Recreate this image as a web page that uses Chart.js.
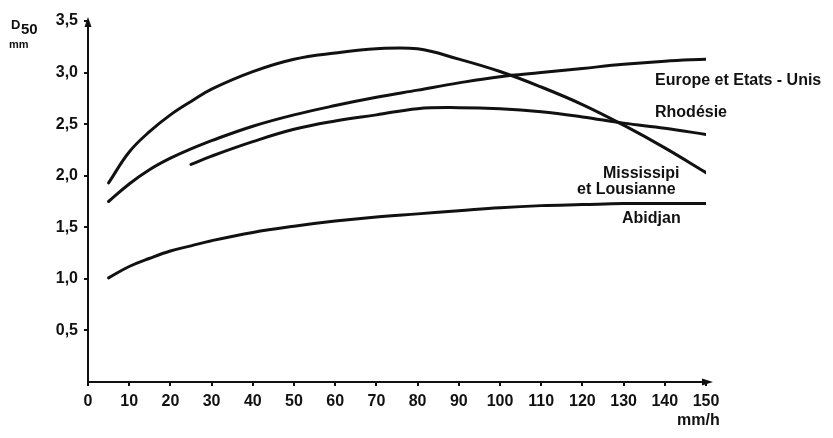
<!DOCTYPE html>
<html>
<head>
<meta charset="utf-8">
<script src="https://cdn.jsdelivr.net/npm/chart.js@4/dist/chart.umd.min.js"></script>
<style>
  html, body { margin: 0; padding: 0; background: #ffffff; }
  #c { display: block; }
</style>
</head>
<body>
<canvas id="c" width="833" height="438"></canvas>
<script>
// ---- Data ----
const intensity = [5, 10, 15, 20, 25, 30, 40, 50, 60, 70, 80, 90, 100, 110, 120, 130, 140, 150];
const mississipi = [1.93, 2.23, 2.43, 2.59, 2.72, 2.84, 3.01, 3.13, 3.19, 3.23, 3.23, 3.13, 3.01, 2.86, 2.69, 2.49, 2.27, 2.03];
const europe     = [1.75, 1.92, 2.06, 2.17, 2.26, 2.34, 2.48, 2.59, 2.68, 2.76, 2.83, 2.90, 2.96, 3.00, 3.04, 3.08, 3.11, 3.13];
const abidjan    = [1.01, 1.12, 1.20, 1.27, 1.32, 1.37, 1.45, 1.51, 1.56, 1.60, 1.63, 1.66, 1.69, 1.71, 1.72, 1.73, 1.73, 1.73];
const rhodesieX  = [25, 30, 40, 50, 60, 70, 80, 90, 100, 110, 120, 130, 140, 150];
const rhodesie   = [2.11, 2.19, 2.33, 2.45, 2.53, 2.59, 2.65, 2.66, 2.65, 2.62, 2.57, 2.51, 2.46, 2.40];
const xTicks = [0, 10, 20, 30, 40, 50, 60, 70, 80, 90, 100, 110, 120, 130, 140, 150];
const yTicks = [0.5, 1.0, 1.5, 2.0, 2.5, 3.0, 3.5];
const seriesLabels = ['Mississipi et Lousianne', 'Europe et Etats-Unis', 'Rhodésie', 'Abidjan'];

const pts = (xs, ys) => xs.map((x, i) => ({ x: x, y: ys[i] }));

const FONT = '"Liberation Sans", Arial, sans-serif';
const INK = '#111111';

const lineStyle = {
  borderColor: INK,
  borderWidth: 3,
  pointRadius: 0,
  fill: false,
  tension: 0.4,
  borderCapStyle: 'round',
  borderJoinStyle: 'round'
};

const annotations = {
  id: 'annotations',
  afterDraw(chart) {
    const ctx = chart.ctx;
    const xs = chart.scales.x, ys = chart.scales.y;
    const x0 = xs.getPixelForValue(0), y0 = ys.getPixelForValue(0);
    const yTop = ys.getPixelForValue(3.5);
    const xEnd = xs.getPixelForValue(150);
    ctx.save();
    ctx.strokeStyle = INK; ctx.fillStyle = INK; ctx.lineWidth = 2;
    // y axis arrow
    ctx.beginPath(); ctx.moveTo(x0, yTop - 4); ctx.lineTo(x0 - 3.5, yTop + 6); ctx.lineTo(x0 + 3.5, yTop + 6); ctx.closePath(); ctx.fill();
    // x axis extension + arrow
    ctx.beginPath(); ctx.moveTo(xEnd, y0); ctx.lineTo(xEnd + 2, y0); ctx.stroke();
    ctx.beginPath(); ctx.moveTo(xEnd + 7, y0); ctx.lineTo(xEnd - 4, y0 - 3.5); ctx.lineTo(xEnd - 4, y0 + 3.5); ctx.closePath(); ctx.fill();

    ctx.textBaseline = 'middle';
    ctx.textAlign = 'left';
    ctx.font = 'bold 16px ' + FONT;
    ctx.fillText('Europe et Etats - Unis', 655, 81);
    ctx.fillText('Rhodésie', 655, 113);
    ctx.fillText('Mississipi', 603, 174);
    ctx.fillText('et Lousianne', 577, 190);
    ctx.fillText('Abidjan', 622, 219);
    ctx.fillText('mm/h', 677, 421);
    // y axis title
    ctx.font = 'bold 13px ' + FONT;
    ctx.fillText('D', 11, 25);
    ctx.font = 'bold 15px ' + FONT;
    ctx.fillText('50', 21, 30);
    ctx.font = 'bold 11px ' + FONT;
    ctx.fillText('mm', 9, 45);
    ctx.restore();
  }
};

new Chart(document.getElementById('c'), {
  type: 'line',
  data: {
    datasets: [
      Object.assign({ label: seriesLabels[0], data: pts(intensity, mississipi) }, lineStyle),
      Object.assign({ label: seriesLabels[1], data: pts(intensity, europe) }, lineStyle),
      Object.assign({ label: seriesLabels[2], data: pts(rhodesieX, rhodesie) }, lineStyle),
      Object.assign({ label: seriesLabels[3], data: pts(intensity, abidjan) }, lineStyle)
    ]
  },
  options: {
    responsive: false,
    animation: false,
    layout: { padding: { top: 21, right: 127, left: 0, bottom: 0 } },
    plugins: { legend: { display: false }, tooltip: { enabled: false } },
    scales: {
      x: {
        type: 'linear', min: 0, max: 150,
        afterFit(s) { s.height = 56; },
        afterBuildTicks(s) { s.ticks = xTicks.map(v => ({ value: v })); },
        grid: { display: true, drawOnChartArea: false, drawTicks: true, tickLength: 4, color: INK, lineWidth: 2 },
        border: { display: true, color: INK, width: 2 },
        ticks: { color: INK, padding: 6, maxRotation: 0, autoSkip: false,
                 font: { family: FONT, size: 16, weight: 'bold' },
                 callback: v => String(v) }
      },
      y: {
        type: 'linear', min: 0, max: 3.5,
        afterFit(s) { s.width = 88; },
        afterBuildTicks(s) { s.ticks = yTicks.map(v => ({ value: v })); },
        grid: { display: true, drawOnChartArea: false, drawTicks: true, tickLength: 4, color: INK, lineWidth: 2 },
        border: { display: true, color: INK, width: 2 },
        ticks: { color: INK, padding: 6, autoSkip: false,
                 font: { family: FONT, size: 16, weight: 'bold' },
                 callback: v => v.toFixed(1).replace('.', ',') }
      }
    }
  },
  plugins: [annotations]
});
</script>
</body>
</html>
